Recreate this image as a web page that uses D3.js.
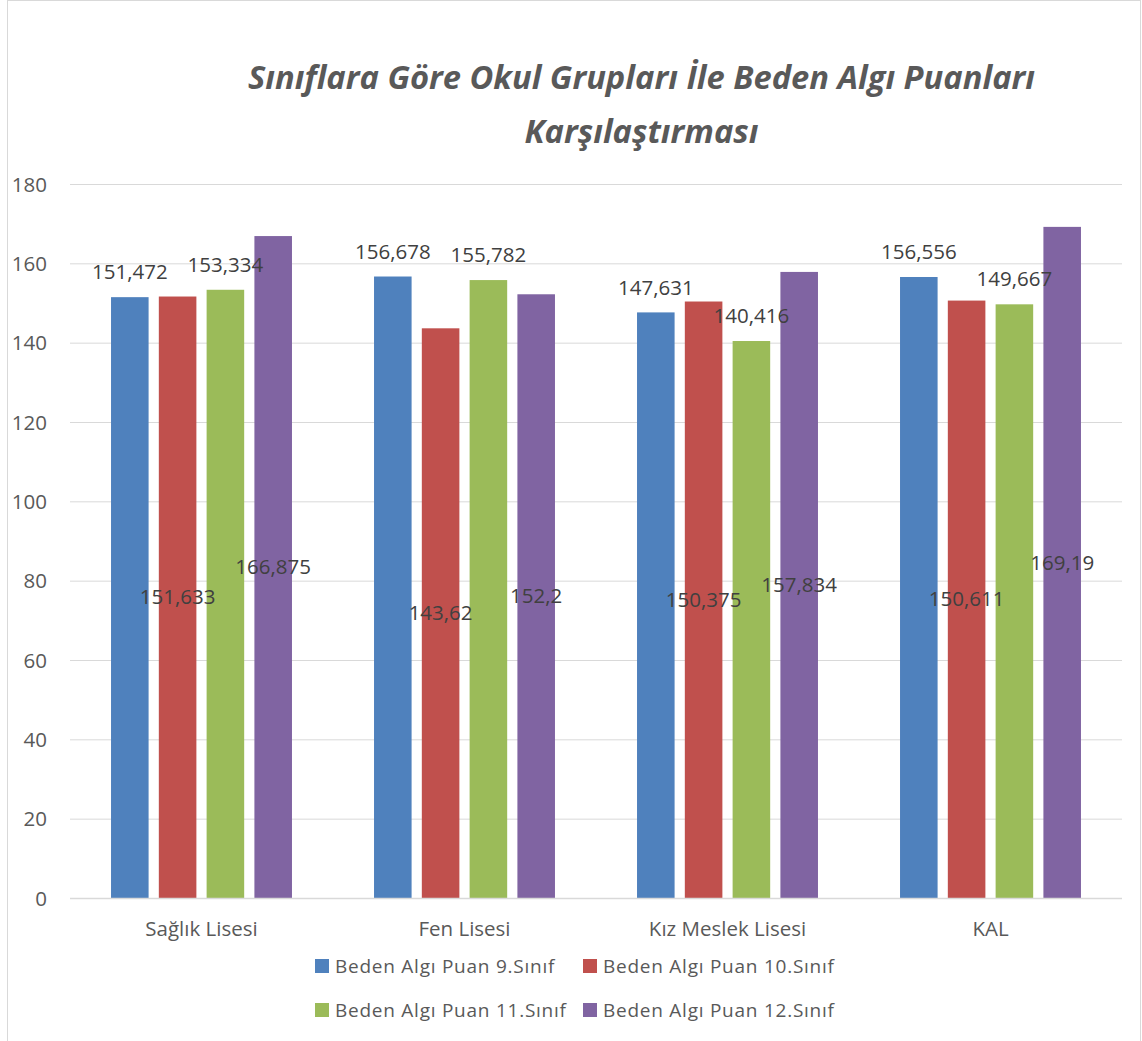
<!DOCTYPE html>
<html><head><meta charset="utf-8">
<script src="https://cdn.jsdelivr.net/npm/d3@7"></script>
<style>
html,body{margin:0;padding:0;background:#fff;}
text{font-family:"Open Sans","DejaVu Sans",sans-serif;}
</style></head>
<body>
<svg id="chart" width="1142" height="1041"></svg>
<script>
const categories = ["Sağlık Lisesi", "Fen Lisesi", "Kız Meslek Lisesi", "KAL"];
const seriesNames = ["Beden Algı Puan 9.Sınıf", "Beden Algı Puan 10.Sınıf", "Beden Algı Puan 11.Sınıf", "Beden Algı Puan 12.Sınıf"];
const grade9 = [151.472, 156.678, 147.631, 156.556];
const grade10 = [151.633, 143.62, 150.375, 150.611];
const grade11 = [153.334, 155.782, 140.416, 149.667];
const grade12 = [166.875, 152.2, 157.834, 169.19];
const seriesColors = ["#4F81BD", "#C0504D", "#9BBB59", "#8064A2"];
const labelPlacement = ["outside", "center", "outside", "center"];
const yTicks = [0, 20, 40, 60, 80, 100, 120, 140, 160, 180];
const titleLines = ["Sınıflara Göre Okul Grupları İle Beden Algı Puanları", "Karşılaştırması"];

const seriesValues = [grade9, grade10, grade11, grade12];
const svg = d3.select("#chart");

// outer border
svg.append("rect").attr("x", 7.5).attr("y", 0.5).attr("width", 1133).attr("height", 1060)
  .attr("fill", "none").attr("stroke", "#d9d9d9").attr("stroke-width", 1);

const plotLeft = 70, plotRight = 1122, plotTop = 184, plotBottom = 898;
const y = d3.scaleLinear().domain([0, 180]).range([plotBottom, plotTop]);
const x0 = d3.scaleBand().domain(categories).range([plotLeft, plotRight]).paddingInner(0.312).paddingOuter(0.156);
const x1 = d3.scaleBand().domain(d3.range(seriesNames.length)).range([0, x0.bandwidth()]).paddingInner(0.214).paddingOuter(0);

// gridlines
const yAxis = d3.axisLeft(y).tickValues(yTicks).tickSize(-(plotRight - plotLeft)).tickPadding(23).tickFormat(d3.format("d"));
const gAxis = svg.append("g").attr("transform", `translate(${plotLeft},0)`).call(yAxis);
gAxis.select(".domain").remove();
gAxis.selectAll(".tick line").attr("stroke", "#d9d9d9").attr("stroke-width", 1);
gAxis.selectAll(".tick text").attr("fill", "#595959").attr("font-size", "20.5px")
  .attr("font-family", "'Open Sans', sans-serif").attr("dy", "0.35em");

// bars
const groups = svg.append("g").selectAll("g").data(categories).join("g")
  .attr("transform", d => `translate(${x0(d)},0)`);
groups.each(function(cat, ci) {
  const g = d3.select(this);
  seriesValues.forEach((vals, si) => {
    const v = vals[ci];
    g.append("rect")
      .attr("x", x1(si)).attr("width", x1.bandwidth())
      .attr("y", y(v)).attr("height", y(0) - y(v))
      .attr("fill", seriesColors[si]);
  });
});

// x axis line
svg.append("line").attr("x1", plotLeft).attr("x2", plotRight).attr("y1", y(0) + 0.5).attr("y2", y(0) + 0.5)
  .attr("stroke", "#d9d9d9").attr("stroke-width", 1.5);

// data labels
const fmt = v => String(v).replace(".", ",");
groups.each(function(cat, ci) {
  const g = d3.select(this);
  seriesValues.forEach((vals, si) => {
    const v = vals[ci];
    const cx = x1(si) + x1.bandwidth() / 2;
    const cy = labelPlacement[si] === "center" ? y(v / 2) : y(v) - 25;
    g.append("text").attr("x", cx).attr("y", cy).attr("dy", "0.35em")
      .attr("text-anchor", "middle").attr("font-size", "20.5px").attr("fill", "#404040")
      .text(fmt(v));
  });
});

// category labels
svg.append("g").selectAll("text").data(categories).join("text")
  .attr("x", d => x0(d) + x0.bandwidth() / 2).attr("y", 936)
  .attr("text-anchor", "middle").attr("font-size", "20.5px").attr("fill", "#595959")
  .text(d => d);

// title
const titleCx = 641.5, titleW = 787;
const t1 = svg.append("text").attr("x", titleCx).attr("y", 89).attr("text-anchor", "middle")
  .attr("font-size", "32px").attr("font-weight", "bold").attr("font-style", "italic").attr("fill", "#595959")
  .text(titleLines[0]);
const w1 = t1.node().getComputedTextLength();
const ratio = titleW / w1;
t1.attr("textLength", titleW).attr("lengthAdjust", "spacingAndGlyphs");
const t2 = svg.append("text").attr("x", titleCx).attr("y", 143).attr("text-anchor", "middle")
  .attr("font-size", "32px").attr("font-weight", "bold").attr("font-style", "italic").attr("fill", "#595959")
  .text(titleLines[1]);
const w2 = t2.node().getComputedTextLength();
t2.attr("textLength", w2 * ratio).attr("lengthAdjust", "spacingAndGlyphs");

// legend
const legendCols = [315, 583], legendRows = [966, 1010];
const legend = svg.append("g").selectAll("g").data(seriesNames).join("g")
  .attr("transform", (d, i) => `translate(${legendCols[i % 2]},${legendRows[Math.floor(i / 2)]})`);
legend.append("rect").attr("x", 0).attr("y", -7).attr("width", 14).attr("height", 14)
  .attr("fill", (d, i) => seriesColors[i]);
legend.append("text").attr("x", 20).attr("y", 0).attr("dy", "0.35em")
  .attr("font-size", "19px").attr("letter-spacing", "0.75px").attr("fill", "#595959")
  .text(d => d);
</script>
</body></html>
